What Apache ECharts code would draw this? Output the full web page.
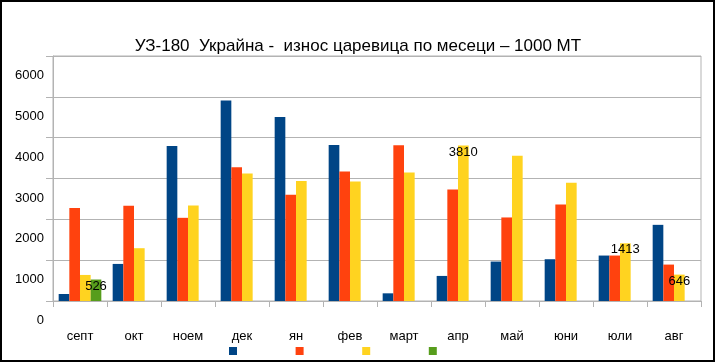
<!DOCTYPE html>
<html>
<head>
<meta charset="utf-8">
<script src="https://cdn.jsdelivr.net/npm/echarts@6/dist/echarts.min.js"></script>
<style>
html,body{margin:0;padding:0;background:#fff;}
#wrap{position:relative;width:716px;height:363px;}
#chart{position:absolute;left:0;top:0;width:716px;height:363px;}
#frame{position:absolute;left:0;top:0;width:715px;height:362px;box-sizing:border-box;border:2px solid #000;pointer-events:none;}
</style>
</head>
<body>
<div id="wrap"><div id="chart"></div><div id="frame"></div></div>
<script>
var titleText = 'УЗ-180  Украйна -  износ царевица по месеци – 1000 МТ';
var categories = ['септ','окт','ноем','дек','ян','фев','март','апр','май','юни','юли','авг'];
var seriesNames = ['s1','s2','s3','s4'];
var blueValues   = [172, 908, 3797, 4909, 4509, 3821, 188, 614, 966, 1023, 1113, 1865];
var orangeValues = [2275, 2332, 2037, 3273, 2602, 3174, 3813, 2733, 2046, 2365, 1113, 892];
var yellowValues = [638, 1293, 2340, 3125, 2937, 2929, 3150, 3810, 3559, 2896, 1413, 646];
var greenValues  = [526, null, null, null, null, null, null, null, null, null, null, null];
var labelledYellow = [7, 10, 11];
var labelledGreen = [0];
var yMin = 0, yMax = 6000, yStep = 1000;

var colors = ['#004586','#ff420e','#ffd320','#579d1c'];
var font = 'Liberation Sans, Arial, sans-serif';

function withLabels(values, shownIdx) {
  return values.map(function (v, i) {
    if (shownIdx.indexOf(i) >= 0) {
      return { value: v, label: { show: true } };
    }
    return v;
  });
}

var allValues = [blueValues, orangeValues, withLabels(yellowValues, labelledYellow), withLabels(greenValues, labelledGreen)];

var chart = echarts.init(document.getElementById('chart'), null, { renderer: 'canvas' });
chart.setOption({
  animation: false,
  backgroundColor: '#fff',
  title: {
    text: titleText,
    left: 'center',
    top: 33,
    textStyle: { fontFamily: font, fontSize: 17, fontWeight: 'normal', color: '#000' }
  },
  legend: {
    left: 229,
    top: 347,
    padding: 0,
    itemWidth: 8,
    itemHeight: 8,
    itemGap: 58.6,
    icon: 'rect',
    formatter: function () { return ''; },
    data: seriesNames
  },
  grid: {
    left: 53, right: 15, top: 56, bottom: 62,
    show: true, borderColor: '#b3b3b3', borderWidth: 1
  },
  xAxis: {
    type: 'category',
    data: categories,
    axisLine: { lineStyle: { color: '#b3b3b3' } },
    axisTick: { show: true, length: 6, alignWithLabel: false, interval: 0, lineStyle: { color: '#b3b3b3' } },
    axisLabel: { fontFamily: font, fontSize: 13, color: '#000', margin: 29, interval: 0 }
  },
  yAxis: {
    type: 'value',
    min: yMin, max: yMax, interval: yStep,
    axisLine: { show: true, lineStyle: { color: '#b3b3b3' } },
    axisTick: { show: true, length: 7, lineStyle: { color: '#b3b3b3' } },
    splitLine: { lineStyle: { color: '#b3b3b3' } },
    axisLabel: {
      fontFamily: font, fontSize: 13, color: '#000', margin: 9,
      verticalAlign: 'top', lineHeight: 39,
      formatter: function (v) { return String(v); }
    }
  },
  series: seriesNames.map(function (n, k) {
    return {
      name: n,
      type: 'bar',
      data: allValues[k],
      barGap: '0%',
      barCategoryGap: '21%',
      itemStyle: { color: colors[k] },
      label: { show: false, position: 'insideTop', distance: 0, fontFamily: font, fontSize: 13, color: '#000' }
    };
  })
});
</script>
</body>
</html>
